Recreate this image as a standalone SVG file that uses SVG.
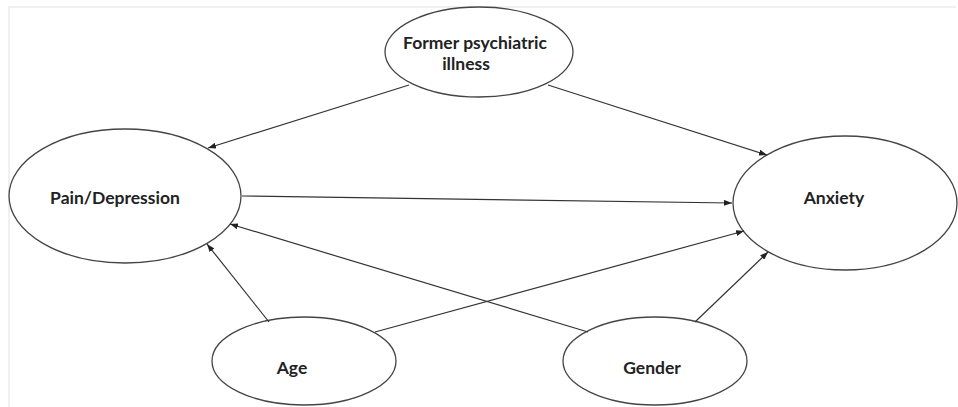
<svg xmlns="http://www.w3.org/2000/svg" width="958" height="407" viewBox="0 0 958 407">
<defs>
<marker id="ah" markerWidth="8" markerHeight="6" refX="8" refY="3" orient="auto" markerUnits="userSpaceOnUse">
<path d="M0,0 L8,3 L0,6 z" fill="#222"/>
</marker>
<style>
.node ellipse{fill:#fff;stroke:#444;stroke-width:1.3}
.node text{font-family:Lato,"Open Sans","Liberation Sans",sans-serif;font-weight:bold;font-size:17.5px;fill:#222;text-anchor:middle;dominant-baseline:central}
.edges line{stroke:#333;stroke-width:1.2;marker-end:url(#ah)}
.frame{stroke:#ececec;stroke-width:1.5;fill:none}
</style>
</defs>
<rect width="958" height="407" fill="#fff"/>
<path class="frame" d="M9,407 L9,7 L956,7"/>
<g id="former" class="node">
<ellipse cx="479" cy="52" rx="94" ry="45"/>
<text x="475" y="42">Former psychiatric</text>
<text x="466" y="63">illness</text>
</g>
<g id="pain" class="node">
<ellipse cx="125" cy="196" rx="116" ry="67"/>
<text x="115" y="197">Pain/Depression</text>
</g>
<g id="anxiety" class="node">
<ellipse cx="845" cy="203" rx="112" ry="67"/>
<text x="834" y="197">Anxiety</text>
</g>
<g id="age" class="node">
<ellipse cx="304" cy="361" rx="92" ry="44"/>
<text x="292" y="367">Age</text>
</g>
<g id="gender" class="node">
<ellipse cx="655" cy="361" rx="92" ry="44"/>
<text x="652" y="367">Gender</text>
</g>
<g class="edges">
<line x1="409" y1="85" x2="208" y2="148"/>
<line x1="548" y1="85" x2="767" y2="155"/>
<line x1="242" y1="196" x2="732" y2="203"/>
<line x1="588" y1="332" x2="230" y2="224"/>
<line x1="269" y1="322" x2="207" y2="244"/>
<line x1="375" y1="332" x2="744" y2="231"/>
<line x1="695" y1="322" x2="768" y2="252"/>
</g>
</svg>
